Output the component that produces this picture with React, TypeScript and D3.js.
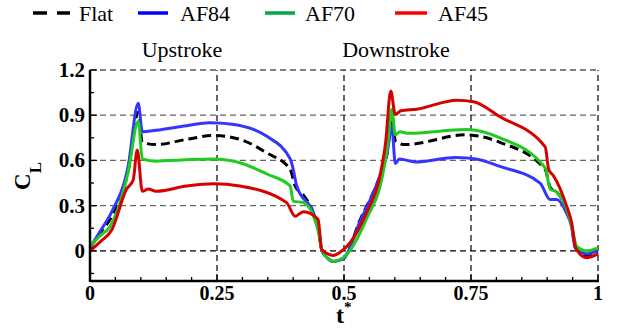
import * as d3 from "d3";

const flatT = [0, 0.02, 0.043, 0.075, 0.095, 0.103, 0.13, 0.19, 0.243, 0.295, 0.348, 0.394, 0.404, 0.42, 0.44, 0.45, 0.456, 0.468, 0.479, 0.499, 0.531, 0.571, 0.585, 0.595, 0.601, 0.62, 0.74, 0.807, 0.896, 0.906, 0.919, 0.938, 0.948, 0.956, 0.977, 1];
const flatCL = [0.02, 0.12, 0.23, 0.53, 0.92, 0.72, 0.705, 0.74, 0.765, 0.74, 0.65, 0.54, 0.43, 0.37, 0.25, 0.14, 0.01, -0.05, -0.07, -0.05, 0.2, 0.5, 0.65, 0.88, 0.73, 0.705, 0.77, 0.72, 0.54, 0.42, 0.39, 0.28, 0.17, 0.02, -0.03, -0.01];

const af84T = [0, 0.02, 0.043, 0.075, 0.095, 0.103, 0.13, 0.19, 0.235, 0.28, 0.348, 0.394, 0.398, 0.407, 0.44, 0.45, 0.456, 0.468, 0.479, 0.499, 0.531, 0.571, 0.585, 0.594, 0.601, 0.609, 0.64, 0.72, 0.76, 0.807, 0.886, 0.906, 0.919, 0.938, 0.948, 0.955, 0.977, 1];
const af84CL = [0.02, 0.13, 0.26, 0.56, 0.98, 0.79, 0.8, 0.83, 0.85, 0.84, 0.76, 0.61, 0.57, 0.43, 0.25, 0.14, 0.01, -0.05, -0.07, -0.05, 0.19, 0.5, 0.65, 0.83, 0.58, 0.61, 0.59, 0.62, 0.61, 0.56, 0.45, 0.34, 0.34, 0.25, 0.16, 0.02, -0.02, 0];

const af70T = [0, 0.02, 0.039, 0.075, 0.095, 0.103, 0.13, 0.19, 0.243, 0.295, 0.348, 0.394, 0.4, 0.42, 0.44, 0.45, 0.456, 0.468, 0.479, 0.499, 0.544, 0.577, 0.586, 0.594, 0.601, 0.61, 0.625, 0.741, 0.807, 0.896, 0.906, 0.919, 0.938, 0.948, 0.958, 0.977, 1];
const af70CL = [0.03, 0.1, 0.16, 0.52, 0.86, 0.61, 0.595, 0.605, 0.61, 0.585, 0.51, 0.43, 0.33, 0.32, 0.23, 0.12, 0.01, -0.05, -0.07, -0.045, 0.21, 0.52, 0.7, 0.94, 0.77, 0.79, 0.78, 0.805, 0.75, 0.55, 0.41, 0.39, 0.28, 0.17, 0.03, 0, 0.02];

const af45T = [0, 0.02, 0.043, 0.072, 0.085, 0.093, 0.103, 0.115, 0.13, 0.19, 0.243, 0.295, 0.387, 0.404, 0.42, 0.449, 0.456, 0.468, 0.479, 0.492, 0.512, 0.544, 0.571, 0.582, 0.592, 0.601, 0.612, 0.643, 0.722, 0.755, 0.807, 0.896, 0.903, 0.912, 0.938, 0.948, 0.956, 0.977, 1];
const af45CL = [0, 0.06, 0.14, 0.41, 0.47, 0.67, 0.395, 0.41, 0.395, 0.43, 0.445, 0.43, 0.32, 0.23, 0.26, 0.21, 0.01, -0.02, -0.03, -0.01, 0.055, 0.25, 0.5, 0.72, 1.06, 0.905, 0.93, 0.94, 1.0, 0.99, 0.89, 0.69, 0.54, 0.5, 0.3, 0.19, 0.02, -0.045, -0.02];

const seriesNames = ["Flat", "AF84", "AF70", "AF45"];
const xTicks = [0, 0.25, 0.5, 0.75, 1];
const xTickLabels = ["0", "0.25", "0.5", "0.75", "1"];
const yTicks = [0, 0.3, 0.6, 0.9, 1.2];
const yTickLabels = ["0", "0.3", "0.6", "0.9", "1.2"];

const W = 622;
const H = 333;
const tf = { fontFamily: "Liberation Serif" };

export default function App() {
  const x = d3.scaleLinear().domain([0, 1]).range([90, 598]);
  const y = d3.scaleLinear().domain([-0.2, 1.2]).range([281, 70]);

  const line = d3
    .line<[number, number]>()
    .x((d) => x(d[0]))
    .y((d) => y(d[1]))
    .curve(d3.curveMonotoneX);

  const series = [
    { name: seriesNames[0], t: flatT, cl: flatCL, color: "#000000", dash: "9,5" },
    { name: seriesNames[1], t: af84T, cl: af84CL, color: "#3535ff", dash: "" },
    { name: seriesNames[2], t: af70T, cl: af70CL, color: "#1ecb1e", dash: "" },
    { name: seriesNames[3], t: af45T, cl: af45CL, color: "#d60000", dash: "" },
  ];

  const legend = [
    { x0: 33, x1: 70, tx: 79, color: "#000000", dash: "14,10" },
    { x0: 138, x1: 168, tx: 180, color: "#0000ff", dash: "" },
    { x0: 265, x1: 295, tx: 305, color: "#00aa44", dash: "" },
    { x0: 395, x1: 427, tx: 438, color: "#ff0000", dash: "" },
  ];

  const minorX = d3.range(0, 1.0001, 0.05);
  const minorY = d3.range(-0.15, 1.2001, 0.15);
  const isMajor = (v: number, step: number) => Math.abs(v / step - Math.round(v / step)) < 1e-6;

  return (
    <svg width={W} height={H} style={{ position: "absolute", left: 0, top: 0, background: "#fff" }}>
      {/* legend */}
      {legend.map((l, i) => (
        <g key={seriesNames[i]}>
          <line x1={l.x0} x2={l.x1} y1={13} y2={13} stroke={l.color} strokeWidth={3.5} strokeDasharray={l.dash || undefined} />
          <text x={l.tx} y={21} fontSize={22} fill="#000" style={tf}>
            {seriesNames[i]}
          </text>
        </g>
      ))}

      <text x={182} y={57} fontSize={22} textAnchor="middle" style={tf}>Upstroke</text>
      <text x={396} y={57} fontSize={22} textAnchor="middle" style={tf}>Downstroke</text>

      {/* grid */}
      {yTicks.map((v) => (
        <line
          key={"gy" + v}
          x1={x(0)}
          x2={x(1)}
          y1={y(v)}
          y2={y(v)}
          stroke={v === 0 || v === 1.2 ? "#000" : "#666"}
          strokeWidth={1.2}
          strokeDasharray="6,4"
        />
      ))}
      {xTicks.slice(1).map((v) => (
        <line
          key={"gx" + v}
          x1={x(v)}
          x2={x(v)}
          y1={y(-0.2)}
          y2={y(1.2)}
          stroke="#000"
          strokeWidth={1.2}
          strokeDasharray="6,4"
        />
      ))}

      {/* curves */}
      {series.map((s) => (
        <path
          key={s.name}
          d={line(s.t.map((t, i) => [t, s.cl[i]] as [number, number])) || ""}
          fill="none"
          stroke={s.color}
          strokeWidth={3}
          strokeDasharray={s.dash || undefined}
          strokeLinejoin="round"
        />
      ))}

      {/* axes */}
      <line x1={x(0)} x2={x(1) + 1} y1={y(-0.2)} y2={y(-0.2)} stroke="#000" strokeWidth={2.5} />
      <line x1={x(0)} x2={x(0)} y1={y(-0.2) + 1} y2={y(1.2)} stroke="#000" strokeWidth={2.5} />
      {minorX.map((v) => (
        <line key={"mx" + v} x1={x(v)} x2={x(v)} y1={y(-0.2)} y2={y(-0.2) - (isMajor(v, 0.25) ? 7 : 4)} stroke="#000" strokeWidth={1.3} />
      ))}
      {minorY.map((v) => (
        <line key={"my" + v} x1={x(0)} x2={x(0) + (isMajor(v, 0.3) ? 7 : 4)} y1={y(v)} y2={y(v)} stroke="#000" strokeWidth={1.3} />
      ))}

      {xTicks.map((v, i) => (
        <text key={"xl" + v} x={x(v)} y={300} fontSize={20} fontWeight="bold" textAnchor="middle" style={tf}>
          {xTickLabels[i]}
        </text>
      ))}
      {yTicks.map((v, i) => (
        <text key={"yl" + v} x={85} y={y(v) + 7} fontSize={21} fontWeight="bold" textAnchor="end" style={tf}>
          {yTickLabels[i]}
        </text>
      ))}

      {/* axis titles */}
      <text transform="translate(30,176) rotate(-90)" fontSize={23} fontWeight="bold" textAnchor="middle" style={tf}>
        C<tspan fontSize={17} dy={11}>L</tspan>
      </text>
      <text x={336} y={323} fontSize={24} fontWeight="bold" style={tf}>
        t<tspan fontSize={15} dx={0} dy={-11}>*</tspan>
      </text>
    </svg>
  );
}
